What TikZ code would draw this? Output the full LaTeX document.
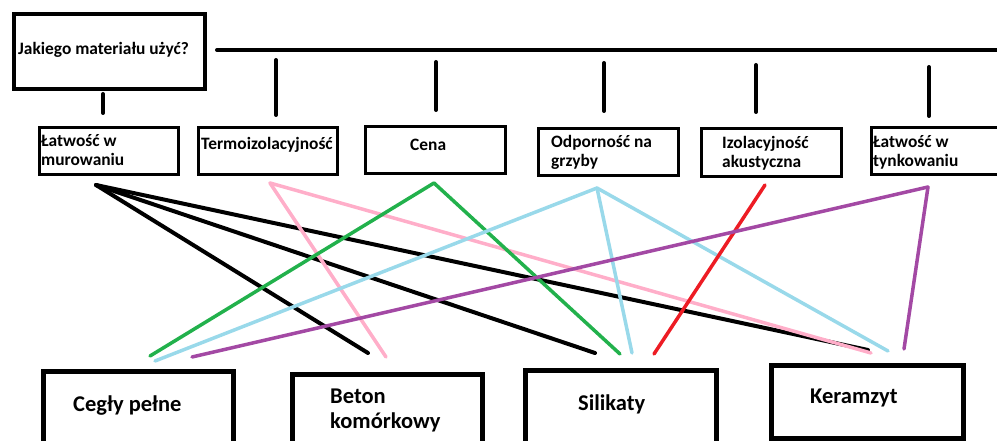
\documentclass[tikz,border=0pt]{standalone}
\usepackage{fontspec}
\setmainfont{Carlito}
\definecolor{cpink}{HTML}{FFAEC9}
\definecolor{cgreen}{HTML}{22B14C}
\definecolor{cblue}{HTML}{99D9EA}
\definecolor{cred}{HTML}{ED1C24}
\definecolor{cpurple}{HTML}{A349A4}
\begin{document}
\begin{tikzpicture}[x=1pt,y=-1pt,
  box/.style={draw, line width=4pt, inner sep=0pt, anchor=north west},
  sbox/.style={draw, line width=3pt, inner sep=0pt, anchor=north west},
  bbox/.style={draw, line width=5pt, inner sep=0pt, anchor=north west},
  lbl/.style={font=\bfseries\fontsize{17.4}{19.5}\selectfont, inner sep=0pt, anchor=base west, align=left},
  big/.style={font=\bfseries\fontsize{22.5}{25}\selectfont, inner sep=0pt, anchor=base west, align=left},
  wire/.style={line width=3.5pt, line cap=round},
  tickline/.style={line width=4pt, line cap=round}]
\useasboundingbox (0,0) rectangle (997,441);
\clip (0,0) rectangle (997,441);
% top box
\node[box, minimum width=191pt, minimum height=75pt] (top) at (12,12) {};
\node[lbl] (toptxt) at (18,55) {Jakiego materiału użyć?};
\coordinate (hs) at (217,50);
\coordinate (he) at (1005,50);
\draw[tickline] (hs) -- (he);
% ticks
\foreach \n/\x/\ya/\yb in {1/103/94/113, 2/276/60/115, 3/436/62/110, 4/604/63/111, 5/756/65/112, 6/929/67/116} {
  \coordinate (ta\n) at (\x,\ya);
  \coordinate (tb\n) at (\x,\yb);
  \draw[tickline] (ta\n) -- (tb\n);
}
% criteria boxes
\node[sbox, minimum width=139pt, minimum height=47.5pt] (b1) at (37.5,126) {};
\node[sbox, minimum width=139.5pt, minimum height=46.5pt] (b2) at (196.5,126.5) {};
\node[sbox, minimum width=139.5pt, minimum height=47pt] (b3) at (364,125.5) {};
\node[sbox, minimum width=139.6pt, minimum height=47pt] (b4) at (537.2,127.2) {};
\node[sbox, minimum width=139.6pt, minimum height=47.7pt] (b5) at (700.2,127.5) {};
\node[sbox, minimum width=150pt, minimum height=47.4pt] (b6) at (869.5,125.8) {};
% (multi-line nodes: anchor point is the baseline of the last line)
\node[lbl] (t1) at (41,166) {Łatwość w\\murowaniu};
\node[lbl] (t2) at (201,150) {Termoizolacyjność};
\node[lbl] (t3) at (410,151) {Cena};
\node[lbl] (t4) at (551,167) {Odporność na\\grzyby};
\node[lbl] (t5) at (722,168) {Izolacyjność\\akustyczna};
\node[lbl] (t6) at (873,167) {Łatwość w\\tynkowaniu};
% material boxes
\node[bbox, minimum width=190.5pt, minimum height=100pt] (m1) at (40.8,369.2) {};
\node[bbox, minimum width=190.4pt, minimum height=100pt] (m2) at (289.8,371.5) {};
\node[bbox, minimum width=191pt, minimum height=100pt] (m3) at (523.2,368.2) {};
\node[bbox, minimum width=191.6pt, minimum height=73.3pt] (m4) at (769.2,362.5) {};
\node[big] (s1) at (73,411) {Cegły pełne};
\node[big] (s2) at (330,428) {Beton\\komórkowy};
\node[big] (s3) at (578,410) {Silikaty};
\node[big] (s4) at (810,403) {Keramzyt};
% connector end points
\coordinate (k1) at (96,185);
\coordinate (k2) at (270,183);
\coordinate (k3) at (434,183);
\coordinate (k4) at (597,188);
\coordinate (k5) at (765,185);
\coordinate (k6) at (928,187);
\coordinate (e1) at (368,353);
\coordinate (e2) at (595,353);
\coordinate (e3) at (868,350);
\coordinate (e4) at (386,357);
\coordinate (e5) at (871,353);
\coordinate (e6) at (150,356);
\coordinate (e7) at (620,354);
\coordinate (e8) at (155,361);
\coordinate (e9) at (632,353);
\coordinate (e10) at (888,351);
\coordinate (e11) at (654,354);
\coordinate (e12) at (192,357);
\coordinate (e13) at (904,349);
% connectors
\draw[wire, black, line width=4pt] (k1) -- (e1);
\draw[wire, black, line width=4pt] (k1) -- (e2);
\draw[wire, black, line width=4pt] (k1) -- (e3);
\draw[wire, cpink] (k2) -- (e4);
\draw[wire, cpink] (k2) -- (e5);
\draw[wire, cgreen] (k3) -- (e6);
\draw[wire, cgreen] (k3) -- (e7);
\draw[wire, cblue] (k4) -- (e8);
\draw[wire, cblue] (k4) -- (e9);
\draw[wire, cblue] (k4) -- (e10);
\draw[wire, cred] (k5) -- (e11);
\draw[wire, cpurple] (k6) -- (e12);
\draw[wire, cpurple] (k6) -- (e13);
\end{tikzpicture}
\end{document}
